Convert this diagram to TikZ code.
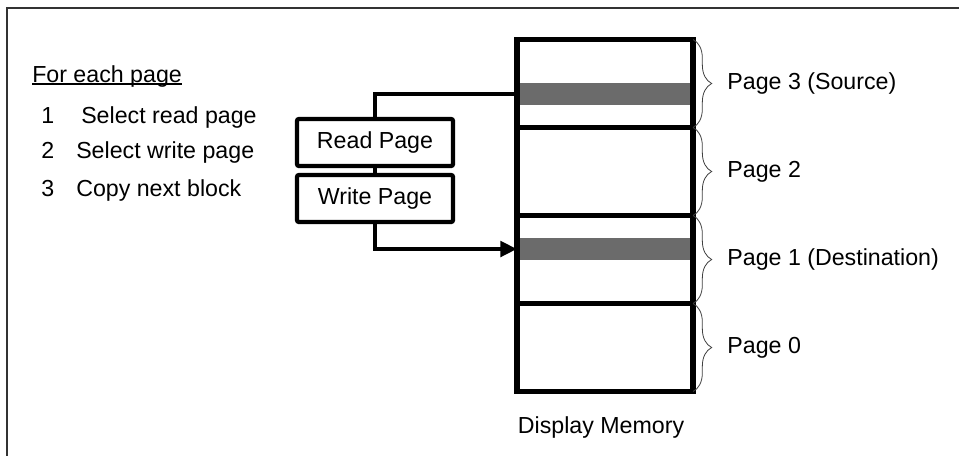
\documentclass[tikz,border=0pt]{standalone}
\usepackage{fontspec}
\setmainfont{Liberation Sans}
\usetikzlibrary{arrows.meta,decorations.pathreplacing}
\begin{document}
\begin{tikzpicture}[x=0.75pt,y=-0.75pt,
  txt/.style={font=\fontsize{17.4}{20}\selectfont, inner sep=0pt},
  pagebox/.style={draw, line width=3.8pt, minimum width=132pt, minimum height=66pt, outer sep=0pt, inner sep=0pt},
  band/.style={fill=black!58, minimum width=132pt, minimum height=16.5pt, inner sep=0pt, outer sep=0pt},
  regbox/.style={draw, line width=3.2pt, rounded corners=1.5pt, minimum width=117pt, minimum height=35.25pt, txt},
  link/.style={line width=3.2pt},
  brc/.style={draw=black!75, line width=0.6pt, decorate, decoration={brace, amplitude=14pt, aspect=0.5}},
  lbl/.style={txt, anchor=west, xshift=25.5pt},
  frame/.style={draw=black!80, line width=1pt}]
\useasboundingbox (0,0) rectangle (959,455);

% outer frame (open to the right and below)
\draw[frame] (980,8) -| (7,480);

% instructions
\node[txt, anchor=base west] (hd) at (32,82) {For each page};
\draw[line width=1.1pt] ([yshift=-1.6pt]hd.base west) -- ([yshift=-1.6pt]hd.base east);
\node[txt, anchor=base west] (n1) at (41,123) {1};
\node[txt, anchor=base west] (s1) at (81,123) {Select read page};
\node[txt, anchor=base west] (n2) at (41,158) {2};
\node[txt, anchor=base west] (s2) at (76,158) {Select write page};
\node[txt, anchor=base west] (n3) at (41,196) {3};
\node[txt, anchor=base west] (s3) at (76,196) {Copy next block};

% shaded blocks inside the source and destination pages
\node[band] (b3) at (605,94) {};
\node[band] (b1) at (605,249) {};

% display memory pages
\node[pagebox, anchor=north west] (p3) at (517,39.5) {};
\node[pagebox, anchor=north] (p2) at (p3.south) {};
\node[pagebox, anchor=north] (p1) at (p2.south) {};
\node[pagebox, anchor=north] (p0) at (p1.south) {};
\node[txt, anchor=base] (dm) at (601,433) {Display Memory};

% page braces and labels
\draw[brc] (p3.north east) -- node[lbl] (l3) {Page 3 (Source)} (p3.south east);
\draw[brc] (p2.north east) -- node[lbl] (l2) {Page 2} (p2.south east);
\draw[brc] (p1.north east) -- node[lbl] (l1) {Page 1 (Destination)} (p1.south east);
\draw[brc] (p0.north east) -- node[lbl] (l0) {Page 0} (p0.south east);

% page registers
\node[regbox] (rp) at (375,142.5) {Read Page};
\node[regbox] (wp) at (375,198.5) {Write Page};

% connections
\draw[link] (rp.north) |- (b3.west);
\draw[link] (rp.south) -- (wp.north);
\draw[link, -{Triangle[length=12.5pt,width=11.5pt]}] (wp.south) |- (b1.west);
\end{tikzpicture}
\end{document}
